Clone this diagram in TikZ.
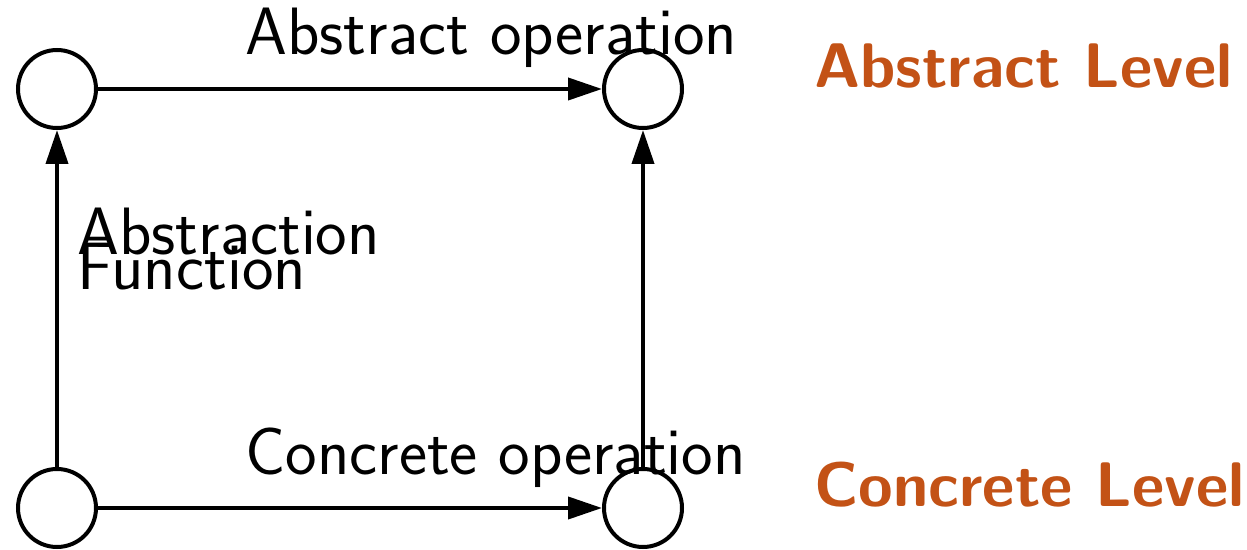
\documentclass[tikz,border=0pt]{standalone}
\usetikzlibrary{arrows.meta}
\definecolor{levelcol}{RGB}{195,82,22}
\newcommand\tightlines{\lineskiplimit=-100pt\relax}
\begin{document}
\begin{tikzpicture}[x=0.5pt,y=-0.5pt,
	state/.style={circle,draw,line width=2pt,minimum size=39pt,inner sep=0pt},
	arr/.style={line width=2pt,-{Triangle[length=17pt,width=11pt]}},
	lbl/.style={font=\sffamily\fontsize{33.5}{17.5}\selectfont\tightlines,inner sep=0pt,anchor=base west},
	lvl/.style={font=\sffamily\bfseries\fontsize{31.5}{36}\selectfont,inner sep=0pt,anchor=base west,text=levelcol}]
	\useasboundingbox (0,0) rectangle (1247,550);
	% texts first, so the lines lie on top
	\node[lbl] (absop) at (245,55) {Abstract operation};
	\node[lbl] (conop) at (245,474) {Concrete operation};
	\node[lbl,align=left] (absfn) at (77,290) {Abstraction\\Function};
	\node[lvl] (abslv) at (814,88) {Abstract Level};
	\node[lvl] (conlv) at (814,506) {Concrete Level};
	% the four states
	\node[state] (a1) at (57,89) {};
	\node[state] (a2) at (643,89) {};
	\node[state] (c1) at (57,508) {};
	\node[state] (c2) at (643,508) {};
	\draw[arr] (a1) -- (a2);
	\draw[arr] (c1) -- (c2);
	\draw[arr] (c1) -- (a1);
	\draw[arr] (c2) -- (a2);
\end{tikzpicture}
\end{document}
